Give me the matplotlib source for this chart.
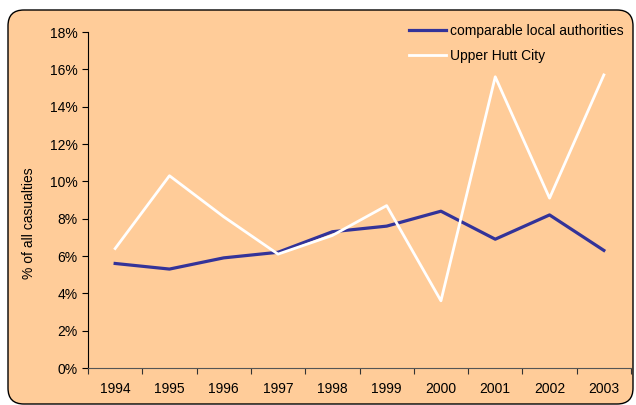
import numpy as np
import matplotlib
matplotlib.use("Agg")
import matplotlib.pyplot as plt
from matplotlib.patches import FancyBboxPatch
from matplotlib.ticker import FixedLocator, FuncFormatter

plt.rcParams['font.family'] = ['Liberation Sans', 'DejaVu Sans']

years = ['1994', '1995', '1996', '1997', '1998', '1999', '2000', '2001', '2002', '2003']
comparable = [5.6, 5.3, 5.9, 6.2, 7.3, 7.6, 8.4, 6.9, 8.2, 6.3]
upper_hutt = [6.4, 10.3, 8.1, 6.1, 7.1, 8.7, 3.6, 15.6, 9.1, 15.7]
yticks = [0, 2, 4, 6, 8, 10, 12, 14, 16, 18]

W, H = 636, 405
peach = '#FFCC99'
fs = 10
fig = plt.figure(figsize=(W / 100, H / 100), dpi=100, facecolor='white')

# rounded outer frame, drawn behind the axes
box = FancyBboxPatch((8 / W, 1 / H), 625 / W, 394 / H,
                     boxstyle='round,pad=0,rounding_size=0.025',
                     mutation_aspect=W / H,
                     transform=fig.transFigure, facecolor=peach,
                     edgecolor='black', linewidth=1.0, zorder=-10)
fig.add_artist(box)

ax = fig.add_axes([88 / W, 1 - 368 / H, (631 - 88) / W, (368 - 32) / H])
ax.set_facecolor('none')
ax.set_zorder(1)

x = np.arange(len(years))
ax.plot(x, comparable, color='#333399', lw=2.3, label='comparable local authorities')
ax.plot(x, upper_hutt, color='white', lw=2.0, label='Upper Hutt City')

ax.set_xlim(-0.5, len(years) - 0.5)
ax.set_ylim(0, 18)
ax.set_yticks(yticks)
ax.yaxis.set_major_formatter(FuncFormatter(lambda v, p: f'{v:.0f}%'))

ax.xaxis.set_major_locator(FixedLocator(np.arange(-0.5, len(years), 1.0)))
ax.xaxis.set_major_formatter(FuncFormatter(lambda v, p: ''))
ax.set_xticks(x, minor=True)
ax.set_xticklabels(years, minor=True)
ax.tick_params(axis='x', which='minor', length=0, pad=10, labelsize=fs)
ax.tick_params(axis='x', which='major', length=4, width=0.8, color='#333333')
ax.tick_params(axis='y', length=4, width=0.8, labelsize=fs, pad=3.5)

for s in ['top', 'right']:
    ax.spines[s].set_visible(False)
ax.spines['left'].set_color('black')
ax.spines['bottom'].set_color('#555555')

ax.set_ylabel('% of all casualties', fontsize=fs)
ax.yaxis.set_label_coords(-0.095, 0.43)

ax.legend(loc='upper right', frameon=False, fontsize=fs, handlelength=2.7,
          handletextpad=0.3, bbox_to_anchor=(1.01, 1.06), labelspacing=0.75)

fig.savefig('out.png', dpi=100, facecolor='white')
